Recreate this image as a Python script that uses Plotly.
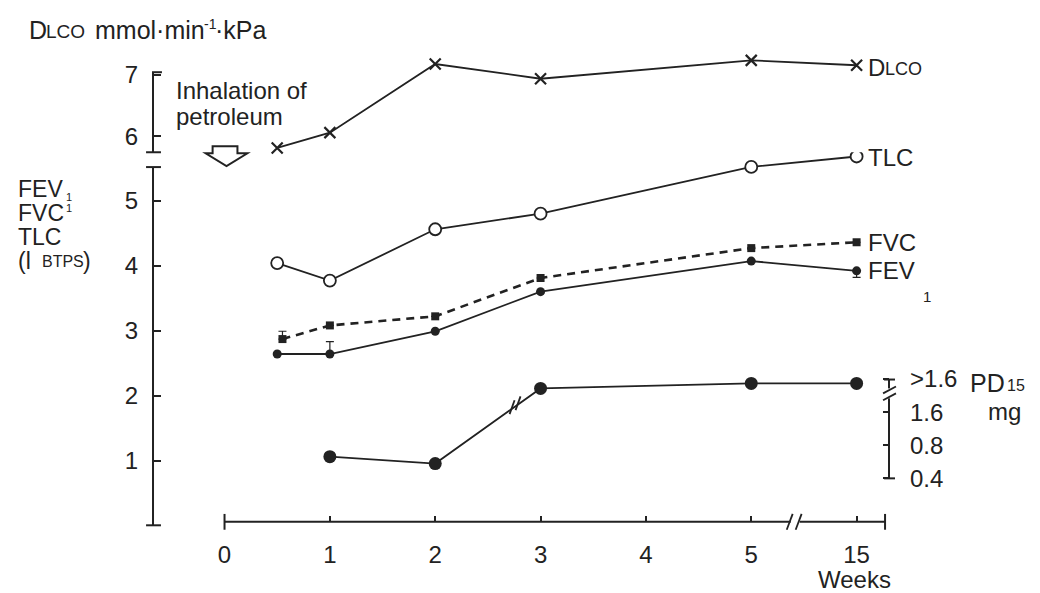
import plotly.graph_objects as go

# ---------------- data ----------------
weeks = [0.5, 1, 2, 3, 5, 15]
fvc_weeks = [0.55, 1, 2, 3, 5, 15]
pd_weeks = [1, 2, 3, 5, 15]

dlco = [5.81, 6.06, 7.18, 6.94, 7.24, 7.16]      # mmol/min/kPa
tlc = [4.04, 3.77, 4.56, 4.80, 5.52, 5.68]        # l BTPS
fvc = [2.87, 3.08, 3.22, 3.81, 4.27, 4.36]
fev1 = [2.64, 2.64, 2.99, 3.60, 4.07, 3.92]
fvc_err_plus = [0.12, 0, 0, 0, 0, 0]
fev1_err_plus = [0, 0.19, 0, 0, 0, 0]
fev1_err_minus = [0, 0, 0, 0, 0, 0.10]
pd15 = [0.63, 0.545, 2.63, 2.92, 2.92]             # mg (last three: >1.6)

x_tickvals = [0, 1, 2, 3, 4, 5, 6]
x_ticktext = ["0", "1", "2", "3", "4", "5", "15"]
pd_tickvals = [0.4, 0.8, 1.6, 3.2]
pd_ticktext = ["0.4", "0.8", "1.6", ">1.6"]


def broken_week(w):
    # axis is broken between 5 and 15 weeks: 15 weeks is drawn one unit after 5
    return w if w <= 5 else 6


W, H = 1040, 593
INK = "#222222"
FONT = "Liberation Sans, Arial, Helvetica, sans-serif"
FS = 24


def px(x):
    return x / W


def py(y):
    return 1 - y / H


fig = go.Figure()

fig.add_trace(go.Scatter(
    x=[broken_week(w) for w in weeks], y=dlco, xaxis="x", yaxis="y2",
    mode="lines+markers", line=dict(color=INK, width=1.8),
    marker=dict(symbol="x-thin", size=11, line=dict(color=INK, width=2.2)),
    cliponaxis=False, name="DLCO"))

fig.add_trace(go.Scatter(
    x=[broken_week(w) for w in weeks], y=tlc, xaxis="x", yaxis="y",
    mode="lines+markers", line=dict(color=INK, width=1.8),
    marker=dict(symbol="circle", size=12, color="white",
                line=dict(color=INK, width=1.8)),
    cliponaxis=False, name="TLC"))

fig.add_trace(go.Scatter(
    x=[broken_week(w) for w in fvc_weeks], y=fvc, xaxis="x", yaxis="y",
    mode="lines+markers", line=dict(color=INK, width=2.6, dash="8px,6px"),
    marker=dict(symbol="square", size=8, color=INK),
    error_y=dict(type="data", symmetric=False, array=fvc_err_plus,
                 arrayminus=[0] * len(fvc), color=INK, thickness=1.2, width=4),
    cliponaxis=False, name="FVC"))

fig.add_trace(go.Scatter(
    x=[broken_week(w) for w in weeks], y=fev1, xaxis="x", yaxis="y",
    mode="lines+markers", line=dict(color=INK, width=1.8),
    marker=dict(symbol="circle", size=9, color=INK),
    error_y=dict(type="data", symmetric=False, array=fev1_err_plus,
                 arrayminus=fev1_err_minus, color=INK, thickness=1.2, width=4),
    cliponaxis=False, name="FEV1"))

fig.add_trace(go.Scatter(
    x=[broken_week(w) for w in pd_weeks], y=pd15, xaxis="x", yaxis="y3",
    mode="lines+markers", line=dict(color=INK, width=1.8),
    marker=dict(symbol="circle", size=13, color=INK),
    cliponaxis=False, name="PD15"))

tickfont = dict(family=FONT, size=FS, color=INK)

fig.update_layout(
    width=W, height=H, margin=dict(l=0, r=0, t=0, b=0),
    paper_bgcolor="white", plot_bgcolor="white", showlegend=False,
    xaxis=dict(domain=[px(219), px(884)], range=[0, 6.27], anchor="free",
               position=py(522), showline=False, showgrid=False, zeroline=False,
               tickvals=x_tickvals, ticktext=x_ticktext, ticks="inside",
               ticklen=6, tickwidth=1.6, tickcolor=INK, tickfont=tickfont,
               ticklabelstandoff=16),
    yaxis=dict(domain=[py(525.75), py(140)], range=[0, (525.75 - 140) / 65.75],
               anchor="free", position=px(147), showline=False, showgrid=False,
               zeroline=False, tickvals=[1, 2, 3, 4, 5], ticks="inside",
               ticklen=7, tickwidth=1.6, tickcolor=INK, tickfont=tickfont,
               ticklabelstandoff=15),
    yaxis2=dict(domain=[py(148), py(40)], range=[5.74, 5.74 + 108 / 62],
                anchor="free", position=px(147), showline=False, showgrid=False,
                zeroline=False, tickvals=[6, 7], ticks="inside", ticklen=7,
                tickwidth=1.6, tickcolor=INK, tickfont=tickfont,
                ticklabelstandoff=15),
    yaxis3=dict(domain=[py(490), py(370)], type="log", range=[-0.5057, 0.5725],
                anchor="free", position=px(888), side="right", showline=False,
                showgrid=False, zeroline=False, tickvals=pd_tickvals,
                ticktext=pd_ticktext, ticks="inside", ticklen=6, tickwidth=1.6,
                tickcolor=INK, tickfont=tickfont, ticklabelstandoff=20),
)

# ---------------- axis lines, caps and breaks (decoration) ----------------
shapes = []


def seg(x0, y0, x1, y1, w=2.0):
    shapes.append(dict(type="line", xref="paper", yref="paper",
                       x0=px(x0), y0=py(y0), x1=px(x1), y1=py(y1),
                       line=dict(color=INK, width=w)))


# left axis, lower part (litres)
seg(147, 163, 147, 525.5)
seg(140, 163, 155, 163)
seg(140, 525.5, 155, 525.5)
# left axis, upper part (DLCO)
seg(147, 67, 147, 148)
seg(146, 67, 156, 67)
seg(140, 148, 155, 148)
# x axis with break between 5 and 15
seg(219, 522, 789, 522)
seg(798, 522, 884, 522)
seg(219, 514, 219, 530)
seg(884, 514, 884, 530)
seg(785, 530, 791, 514, 1.8)
seg(794, 530, 800, 514, 1.8)
# PD15 axis with break
seg(888, 378, 888, 387)
seg(888, 397, 888, 478)
seg(883, 378, 894, 378)
seg(883, 478, 894, 478)
seg(882, 392, 895, 385, 1.8)
seg(882, 399, 895, 392, 1.8)
# break marks on the PD15 curve
seg(506, 413, 511, 399, 1.8)
seg(512, 409, 517, 395, 1.8)

# open arrow "inhalation"
arrow_pts = [(207, 142), (232, 142), (232, 149), (242, 149), (221, 162),
             (200, 149), (207, 149)]
path = "M " + " L ".join(f"{px(a):.5f},{py(b):.5f}" for a, b in arrow_pts) + " Z"
shapes.append(dict(type="path", xref="paper", yref="paper", path=path,
                   fillcolor="white", line=dict(color=INK, width=2)))

fig.update_layout(shapes=shapes)


# ---------------- texts ----------------
def note(text, x, y, size=FS, xanchor="left"):
    fig.add_annotation(text=text, x=px(x), y=py(y), xref="paper", yref="paper",
                       xanchor=xanchor, yanchor="middle", showarrow=False,
                       borderpad=0, font=dict(family=FONT, size=size, color=INK))


# axis title of the DLCO scale
note("D", 21, 24, 25)
note("LCO", 38, 26, 19)
note("mmol·min", 88, 24, 25)
note("-1", 197, 18, 14)
note("·kPa", 208, 24, 25)
# inhalation mark
note("Inhalation of", 169, 86, 24)
note("petroleum", 169, 112, 24)
# litre scale title
note("FEV", 10, 185, 23)
note("1", 58, 193, 11)
note("FVC", 10, 209, 23)
note("1", 58, 204, 11)
note("TLC", 10, 233.5, 23)
note("(l", 10, 258, 23)
note("BTPS", 34, 259, 16)
note(")", 76, 258, 23)
# series labels
note("D", 866, 62)
note("LCO", 883, 64, 18)
note("TLC", 866, 153)
note("FVC", 866, 239)
note("FEV", 866, 268)
note("1", 921, 294, 15)
# PD15 scale title
note("PD", 969, 381, 25)
note("15", 1006, 384, 16)
note("mg", 987, 410)
note("Weeks", 815, 580)

fig.write_html("out.html", config={"displayModeBar": False},
               post_script="document.body.style.margin='0px';")
